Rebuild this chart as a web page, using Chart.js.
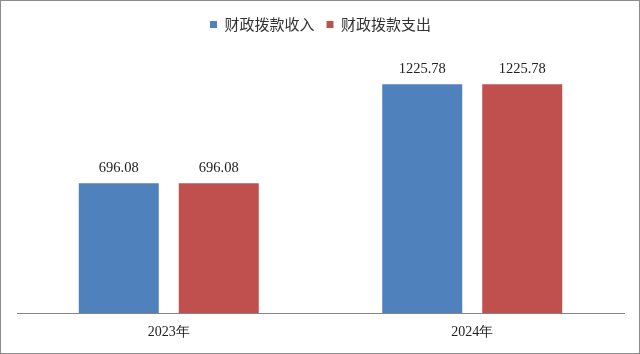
<!DOCTYPE html>
<html>
<head>
<meta charset="utf-8">
<script src="https://cdn.jsdelivr.net/npm/chart.js@4/dist/chart.umd.min.js"></script>
<style>
  html, body { margin: 0; padding: 0; background: #fff; }
  #box { width: 638px; height: 352px; border: 1px solid #8c8c8c; position: relative; }
</style>
</head>
<body>
<div id="box"><canvas id="chart"></canvas></div>
<script>
var years = ['2023年', '2024年'];
var income = [696.08, 1225.78];
var expense = [696.08, 1225.78];
var seriesNames = ['财政拨款收入', '财政拨款支出'];
var colors = ['#4F81BD', '#C0504D'];

// draw value above each bar
var valueLabels = {
    id: 'valueLabels',
    afterDatasetsDraw: function(chart) {
        var ctx = chart.ctx;
        ctx.save();
        ctx.font = '14.5px "Liberation Serif", serif';
        ctx.fillStyle = '#222';
        ctx.textAlign = 'center';
        ctx.textBaseline = 'bottom';
        chart.data.datasets.forEach(function(ds, i) {
            chart.getDatasetMeta(i).data.forEach(function(bar, j) {
                ctx.fillText(ds.data[j].toFixed(2), bar.x, bar.y - 8);
            });
        });
        ctx.restore();
    }
};

new Chart(document.getElementById('chart'), {
    type: 'bar',
    data: {
        labels: years,
        datasets: [{
            label: seriesNames[0],
            data: income,
            backgroundColor: colors[0],
            borderWidth: 0,
            barPercentage: 0.8,
            categoryPercentage: 0.659
        }, {
            label: seriesNames[1],
            data: expense,
            backgroundColor: colors[1],
            borderWidth: 0,
            barPercentage: 0.8,
            categoryPercentage: 0.659
        }]
    },
    options: {
        responsive: true,
        maintainAspectRatio: false,
        animation: false,
        layout: { padding: { left: 16, right: 15, top: 4, bottom: 9 } },
        plugins: {
            legend: {
                position: 'top',
                labels: {
                    boxWidth: 7,
                    boxHeight: 7,
                    padding: 12,
                    color: '#333',
                    font: { family: '"Noto Sans CJK SC", sans-serif', size: 15 }
                }
            },
            tooltip: { enabled: false }
        },
        scales: {
            x: {
                grid: { display: false },
                border: { display: true, color: '#868686', width: 1 },
                ticks: {
                    color: '#222',
                    padding: 3,
                    font: { family: '"Liberation Serif", serif', size: 14 }
                }
            },
            y: {
                display: false,
                min: 0,
                max: 1452
            }
        }
    },
    plugins: [valueLabels]
});
</script>
</body>
</html>
